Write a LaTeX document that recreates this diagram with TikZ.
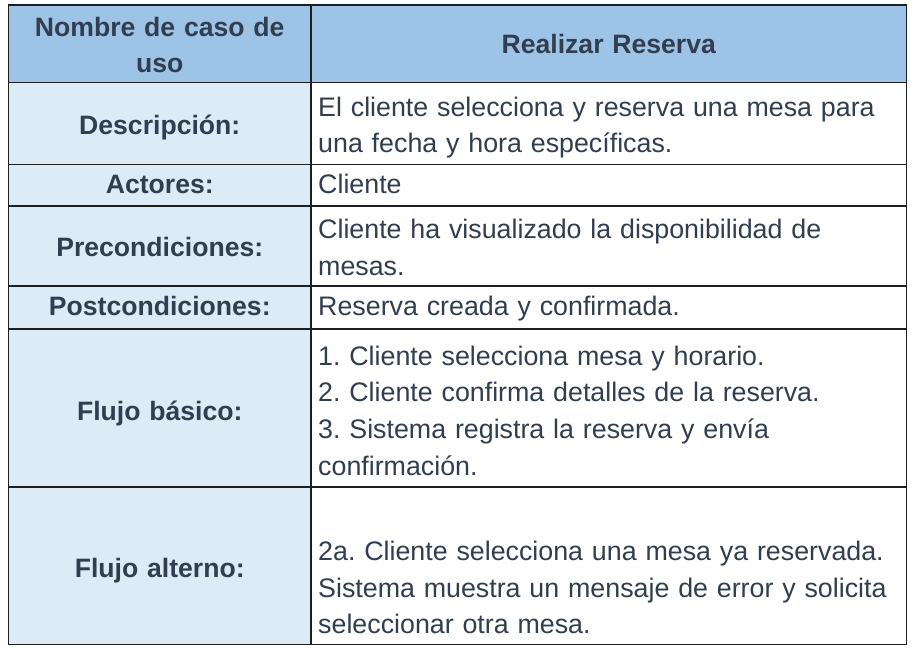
\documentclass[tikz,border=0pt]{standalone}
\usepackage{fontspec}
\setmainfont{Liberation Sans}
\definecolor{hdr}{RGB}{157,195,230}
\definecolor{lbl}{RGB}{221,235,247}
\definecolor{txt}{RGB}{50,62,79}
\definecolor{rulec}{RGB}{30,30,30}
\newcommand\mybodyfont{\fontsize{26.8}{36.6}\selectfont\frenchspacing\spaceskip=0.33em\relax}
\newcommand\mylabelfont{\fontsize{26.6}{36.6}\selectfont\bfseries\frenchspacing\spaceskip=0.33em\relax}
\begin{document}
\begin{tikzpicture}[x=1pt,y=-1pt,
  every node/.style={inner sep=0pt, text=txt, font=\mybodyfont},
  cell/.style={anchor=base west},
  label/.style={anchor=base, font=\mylabelfont},
  gridline/.style={draw=rulec, line width=1.6pt}]
\useasboundingbox (0,0) rectangle (916,654);
\fill[white] (0,0) rectangle (916,654);
\fill[hdr] (8.5,5) rectangle (906.5,82.5);
\fill[lbl] (8.5,82.5) rectangle (311,644.5);
% grid
\foreach \y in {82.5,164.5,206,286,329,487} \draw[gridline] (8.5,\y) -- (906.5,\y);
\draw[gridline] (311,5) -- (311,644.5);
\draw[gridline] (8.5,5) rectangle (906.5,644.5);
% header
\node[label] (h1a) at (159.75,36) {Nombre de caso de};
\node[label] (h1b) at (159.75,72.5) {uso};
\node[label] (h2) at (608.75,53) {Realizar Reserva};
% labels
\node[label] (l1) at (159.75,134) {Descripción:};
\node[label] (l2) at (159.75,193) {Actores:};
\node[label] (l3) at (159.75,256.5) {Precondiciones:};
\node[label] (l4) at (159.75,315) {Postcondiciones:};
\node[label] (l5) at (159.75,420) {Flujo básico:};
\node[label] (l6) at (159.75,577) {Flujo alterno:};
% right column
\node[cell] (d1) at (318,116) {El cliente selecciona y reserva una mesa para};
\node[cell] (d2) at (318,152.5) {una fecha y hora específicas.};
\node[cell] (a1) at (318,193) {Cliente};
\node[cell] (p1) at (318,238.5) {Cliente ha visualizado la disponibilidad de};
\node[cell] (p2) at (318,275) {mesas.};
\node[cell] (q1) at (318,315) {Reserva creada y confirmada.};
\node[cell] (f1) at (318,365) {1. Cliente selecciona mesa y horario.};
\node[cell] (f2) at (318,401.7) {2. Cliente confirma detalles de la reserva.};
\node[cell] (f3) at (318,438.3) {3. Sistema registra la reserva y envía};
\node[cell] (f4) at (318,475) {confirmación.};
\node[cell] (g1) at (318,560.5) {2a. Cliente selecciona una mesa ya reservada.};
\node[cell] (g2) at (318,597) {Sistema muestra un mensaje de error y solicita};
\node[cell] (g3) at (318,633.5) {seleccionar otra mesa.};
\end{tikzpicture}
\end{document}
